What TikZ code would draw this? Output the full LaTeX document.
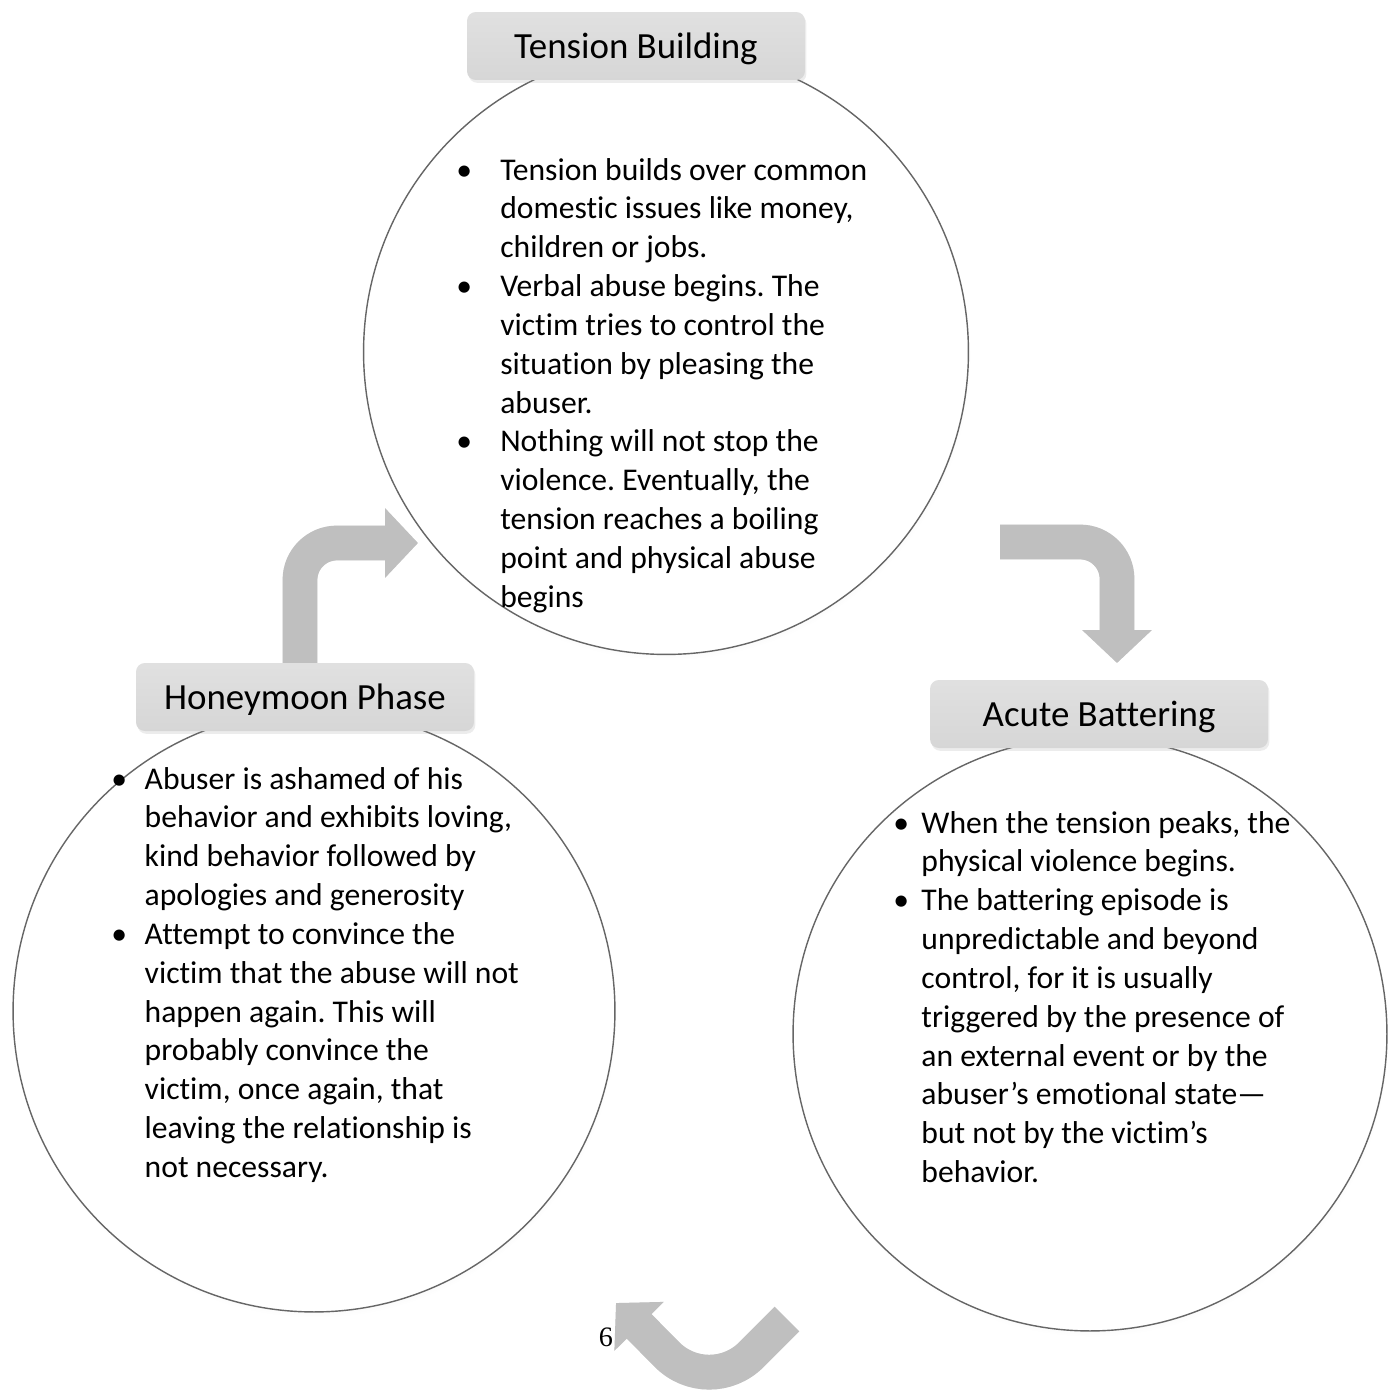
\documentclass[tikz,border=0pt]{standalone}
\usepackage{fontspec}
\setmainfont{Carlito}[Ligatures=NoCommon]
\newfontfamily\pagefont{Liberation Serif}
\usetikzlibrary{arrows.meta,shadows}
\frenchspacing

\begin{document}
\begin{tikzpicture}[
    x=0.02cm, y=-0.02cm,
    phase/.style={rectangle, rounded corners=5pt, top color=black!12, bottom color=black!16, minimum width=6.76cm, minimum height=1.36cm, text depth=0pt, font=\fontsize{21}{25}\selectfont, drop shadow={shadow xshift=0.8pt, shadow yshift=-1.6pt, opacity=0.15}},
    disc/.style={circle, draw=black!60, line width=0.8pt, fill=white, circular drop shadow={shadow xshift=1pt, shadow yshift=-3pt, shadow scale=1.0, opacity=0.2}},
    notes/.style={anchor=base west, inner sep=0pt, font=\fontsize{18}{22.11}\selectfont},
    turnarrow/.style={line width=19.8pt, black!25, -{Triangle[width=38.5pt, length=18.7pt]}},
    turnshade/.style={turnarrow, black!8, shift={(2,3)}}
]
    \useasboundingbox (0,0) rectangle (1387,1393);

    % Three phase circles
    \node[disc, minimum size=12.1cm] (tensionDisc) at (666,352) {};
    \node[disc, minimum size=12.04cm] (honeyDisc) at (314,1011) {};
    \node[disc, minimum size=11.88cm] (acuteDisc) at (1090,1034) {};

    % Bullet notes inside the circles
    \node[notes] (tensionText) at (456,180) {\begin{tabular}[t]{@{}p{25pt}@{}l@{}}
        • & Tension builds over common\\
          & domestic issues like money,\\
          & children or jobs.\\
        • & Verbal abuse begins. The\\
          & victim tries to control the\\
          & situation by pleasing the\\
          & abuser.\\
        • & Nothing will not stop the\\
          & violence. Eventually, the\\
          & tension reaches a boiling\\
          & point and physical abuse\\
          & begins
    \end{tabular}};

    \node[notes] (honeyText) at (111,789) {\begin{tabular}[t]{@{}p{19pt}@{}l@{}}
        • & Abuser is ashamed of his\\
          & behavior and exhibits loving,\\
          & kind behavior followed by\\
          & apologies and generosity\\
        • & Attempt to convince the\\
          & victim that the abuse will not\\
          & happen again. This will\\
          & probably convince the\\
          & victim, once again, that\\
          & leaving the relationship is\\
          & not necessary.
    \end{tabular}};

    \node[notes] (acuteText) at (893,833) {\begin{tabular}[t]{@{}p{16pt}@{}l@{}}
        • & When the tension peaks, the\\
          & physical violence begins.\\
        • & The battering episode is\\
          & unpredictable and beyond\\
          & control, for it is usually\\
          & triggered by the presence of\\
          & an external event or by the\\
          & abuser’s emotional state—\\
          & but not by the victim’s\\
          & behavior.
    \end{tabular}};

    % Page number
    \node[font=\pagefont\fontsize{16}{18}\selectfont, inner sep=0pt] (pageNo) at (606,1337) {6};

    % Bent arrows of the cycle
    \coordinate (honeyOut) at (300,690);
    \coordinate (tensionIn) at (418,543);
    \coordinate (tensionOut) at (1000,542);
    \coordinate (acuteIn) at (1117,663);
    \coordinate (acuteOut) at (787,1319);
    \coordinate (cycleLow) at (709,1397);
    \coordinate (honeyIn) at (616,1303);

    \draw[turnshade, rounded corners=21pt] (honeyOut) |- (tensionIn);
    \draw[turnarrow, rounded corners=21pt] (honeyOut) |- (tensionIn);
    \draw[turnshade, rounded corners=21pt] (tensionOut) -| (acuteIn);
    \draw[turnarrow, rounded corners=21pt] (tensionOut) -| (acuteIn);
    \draw[turnshade, rounded corners=34pt] (acuteOut) -- (cycleLow) -- (honeyIn);
    \draw[turnarrow, rounded corners=34pt] (acuteOut) -- (cycleLow) -- (honeyIn);

    % Phase labels
    \node[phase] (tension) at (636,46) {Tension Building};
    \node[phase] (honeymoon) at (305,697) {Honeymoon Phase};
    \node[phase] (acute) at (1099,714) {Acute Battering};
\end{tikzpicture}
\end{document}
